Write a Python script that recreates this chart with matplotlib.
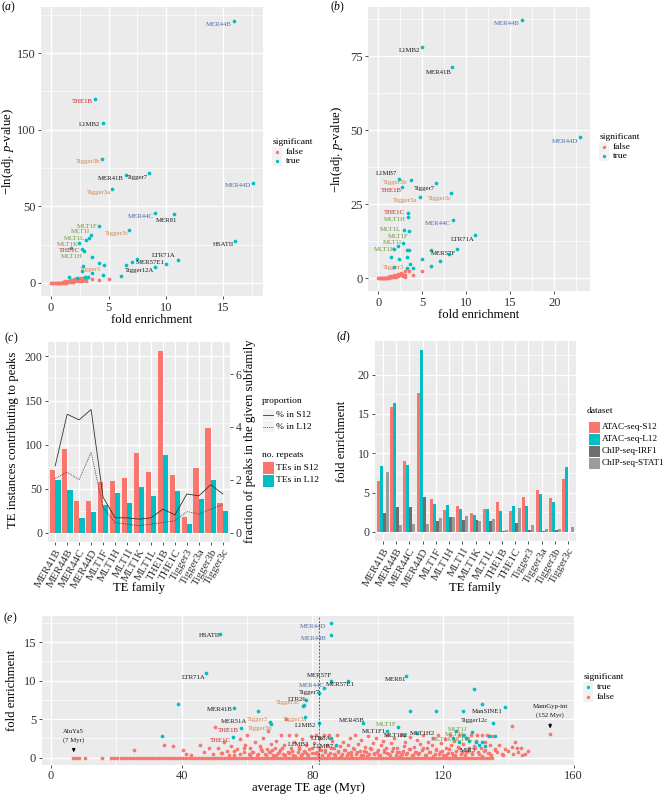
import matplotlib
matplotlib.use('Agg')
import matplotlib.pyplot as plt
from matplotlib.lines import Line2D
from matplotlib.patches import Rectangle
from matplotlib.ticker import MultipleLocator

plt.rcParams['font.family'] = ['Liberation Serif', 'DejaVu Serif']
plt.rcParams['mathtext.fontset'] = 'custom'
plt.rcParams['mathtext.rm'] = 'Liberation Serif'
plt.rcParams['mathtext.it'] = 'Liberation Serif:italic'

W, H = 668, 799
RED = '#F8766D'
TEAL = '#00BFC4'
C_BLUE = '#4F6FA8'
C_RED = '#C41E1E'
C_ORANGE = '#D2804A'
C_GREEN = '#6A9A3A'
C_BLACK = '#1A1A1A'

# ---------------- data: panel (a) ----------------
a_true_fe = [15.9, 3.84, 4.55, 4.4, 6.49, 8.49, 17.56, 5.33, 9.07, 10.7, 4.2, 3.5, 3.3, 3.0,
             6.8, 2.46, 16.0, 1.77, 2.72, 2.9, 3.56, 11.04, 10.0, 7.5, 7.04, 6.52, 9.0, 6.05,
             4.2, 4.57, 4.52, 2.75, 2.7, 3.56, 1.53, 2.26, 2.98, 3.2]
a_true_p = [171.2, 120, 104.5, 81, 70.6, 71.7, 65.3, 61.2, 45.4, 44.7, 36.8, 31.2, 29, 28,
            34.2, 25.9, 27.4, 22.6, 22.0, 21.0, 17.1, 14.7, 12.3, 15.6, 13.6, 11.4, 10.1, 4.2,
            12.8, 11.4, 4.9, 11.0, 7.9, 6.2, 3.5, 3.3, 3.5, 3.5]
a_false_fe = [0.0, 0.1, 0.2, 0.3, 0.4, 0.5, 0.6, 0.7, 0.8, 0.9, 1.0, 1.1, 1.2, 1.3, 1.4, 1.5,
              1.6, 1.7, 1.8, 1.9, 2.0, 2.1, 2.2, 2.3, 2.4, 2.5, 2.6, 2.7, 2.8, 2.9, 3.0, 1.0,
              1.2, 1.5, 1.7, 2.0, 2.2, 2.5, 2.8, 3.0, 3.6, 4.2, 5.0]
a_false_p = [0.0, 0.0, 0.0, 0.0, 0.0, 0.0, 0.0, 0.0, 0.1, 0.0, 0.2, 0.1, 0.4, 0.2, 0.6, 0.3,
             0.9, 0.5, 1.2, 0.7, 1.5, 0.9, 1.8, 1.1, 2.2, 1.4, 2.6, 1.0, 2.0, 1.6, 2.4, 0.8,
             1.0, 1.3, 1.6, 2.4, 2.8, 3.0, 3.0, 0.9, 2.2, 1.6, 2.4]
a_label_names = ['MER44B', 'THE1B', 'L1MB2', 'Tigger3b', 'MER41B', 'Tigger7', 'MER44D',
                 'Tigger3a', 'MER44C', 'MER81', 'MLT1F', 'MLT1I', 'MLT1L', 'Tigger3c',
                 'MLT1K', 'HSATII', 'THE1C', 'MLT1H', 'LTR71A', 'MER57E1', 'Tigger3',
                 'Tigger12A']
a_label_x = [14.57, 2.7, 3.36, 3.18, 5.16, 7.48, 16.26, 4.14, 7.77, 10.0, 3.18, 2.55, 2.03,
             5.74, 1.48, 14.96, 1.59, 1.83, 9.8, 8.6, 3.4, 7.7]
a_label_y = [168.6, 118.6, 103.3, 79.3, 68.4, 68.8, 63.4, 59.0, 43.0, 41.0, 37.1, 33.2, 29.2,
             32.0, 25.2, 24.8, 21.1, 17.1, 17.6, 13.2, 8.8, 7.9]

# ---------------- data: panel (b) ----------------
b_true_fe = [16.3, 4.99, 8.42, 22.9, 2.34, 3.74, 2.72, 6.6, 8.27, 4.72, 3.36, 3.36, 8.46,
             2.98, 3.55, 10.95, 2.8, 2.27, 1.85, 3.3, 3.5, 5.97, 8.9, 8.05, 1.5, 2.4, 3.3,
             5.0, 7.0, 3.66, 4.0, 6.0, 3.3, 1.8]
b_true_p = [87.2, 78.0, 71.2, 47.5, 33.6, 33.0, 30.9, 32.1, 28.8, 27.3, 22.0, 20.7, 19.5,
            16.3, 15.8, 14.5, 11.9, 11.0, 9.8, 9.6, 9.6, 9.6, 9.7, 8.1, 7.0, 6.6, 7.2, 6.3,
            5.9, 4.6, 3.5, 4.0, 3.5, 3.6]
b_false_fe = [0.0, 0.1, 0.2, 0.3, 0.4, 0.5, 0.6, 0.7, 0.8, 0.9, 1.0, 1.1, 1.2, 1.3, 1.4, 1.5,
              1.6, 1.7, 1.8, 1.9, 2.0, 2.1, 2.2, 2.3, 2.4, 2.5, 2.6, 2.7, 2.8, 2.9, 3.0, 1.4,
              1.8, 2.2, 2.6, 3.0, 3.1, 3.55, 4.0, 5.0]
b_false_p = [0.0, 0.0, 0.0, 0.0, 0.0, 0.0, 0.0, 0.0, 0.1, 0.0, 0.1, 0.2, 0.1, 0.3, 0.2, 0.4,
             0.3, 0.6, 0.4, 0.8, 0.5, 1.0, 0.7, 1.2, 0.9, 1.3, 1.0, 1.5, 0.8, 1.2, 0.2, 0.7,
             1.0, 1.4, 1.7, 1.0, 2.3, 2.3, 1.0, 2.3]
b_label_names = ['MER44B', 'L1MB2', 'MER41B', 'MER44D', 'L1MB7', 'Tigger3b', 'THE1B',
                 'Tigger7', 'Tigger3c', 'Tigger3a', 'THE1C', 'MLT1H', 'MER44C', 'MLT1L',
                 'LTR71A', 'MLT1F', 'MLT1I', 'MLT1K', 'MER57F', 'Tigger3']
b_label_x = [14.55, 3.58, 6.87, 21.16, 0.94, 1.96, 1.51, 5.28, 7.06, 3.1, 1.85, 1.85, 6.76,
             1.39, 9.64, 2.22, 1.59, 0.71, 7.37, 1.77]
b_label_y = [86.1, 77.0, 69.6, 46.0, 35.3, 32.2, 29.5, 30.3, 26.9, 26.1, 22.1, 19.8, 18.3,
             16.5, 13.2, 13.9, 12.1, 9.8, 8.3, 3.5]

# ---------------- data: panel (c) ----------------
families = ['MER41B', 'MER44B', 'MER44C', 'MER44D', 'MLT1F', 'MLT1H', 'MLT1I', 'MLT1K',
            'MLT1L', 'THE1B', 'THE1C', 'Tigger3', 'Tigger3a', 'Tigger3b', 'Tigger3c']
c_tes_s12 = [71, 95, 36, 36, 58, 59, 62.5, 90.5, 69, 206, 65.5, 18, 74, 119, 34]
c_tes_l12 = [59.5, 49, 17.4, 24, 32, 44.7, 34, 51.5, 42, 88.6, 47, 10.6, 38, 60, 25]
c_pct_s12 = [2.53, 4.48, 4.27, 4.66, 1.35, 0.57, 0.57, 0.52, 0.57, 0.90, 0.68, 1.47, 1.40,
             1.82, 1.47]
c_pct_l12 = [2.06, 2.29, 2.01, 3.04, 0.95, 0.39, 0.33, 0.27, 0.33, 0.39, 0.46, 0.81, 0.71,
             0.90, 1.06]

# ---------------- data: panel (d) ----------------
d_datasets = ['ATAC-seq-S12', 'ATAC-seq-L12', 'ChIP-seq-IRF1', 'ChIP-seq-STAT1']
d_atac_s12 = [6.43, 15.9, 9.03, 17.6, 4.13, 2.77, 3.28, 2.43, 2.9, 3.83, 2.72, 4.47, 5.28,
              4.3, 6.73]
d_atac_l12 = [8.43, 16.4, 8.5, 23.1, 3.53, 3.4, 2.9, 2.13, 2.9, 2.68, 3.32, 3.32, 4.81, 3.74,
              8.3]
d_chip_irf1 = [2.36, 3.17, 3.17, 4.47, 1.36, 1.9, 1.49, 1.49, 1.36, 0.17, 1.15, 0.2, 0.1, 0.2,
               0.04]
d_chip_stat1 = [7.58, 0.86, 0.95, 1.06, 1.83, 1.85, 2.04, 1.36, 1.62, 0.26, 3.02, 0.94, 0.38,
                0.43, 0.64]

# ---------------- data: panel (e) ----------------
e_true_age = [51.9, 85.6, 85.6, 47.4, 108.8, 85.8, 90.8, 83.7, 82.2, 78.2, 77.4, 77.2, 77.8,
              56.0, 63.5, 39.0, 67.3, 67.0, 58.2, 55.7, 33.9, 82.0, 95.5, 106.2, 103.0, 108.0,
              112.0, 85.8, 87.3, 139.0, 135.2, 110.0, 118.0, 126.0, 129.5, 132.0, 124, 126,
              127, 128, 129, 130, 131, 132, 133, 134, 136, 125, 123]
e_true_fe = [16.0, 17.5, 15.9, 11.05, 10.66, 9.96, 9.96, 9.0, 8.4, 7.5, 6.9, 6.7, 5.26, 6.5,
             6.0, 7.0, 4.4, 4.6, 3.8, 2.7, 2.76, 4.47, 4.5, 4.0, 3.5, 3.0, 3.2, 2.6, 1.67,
             6.55, 4.55, 6.05, 6.05, 6.05, 8.9, 6.95, 3.5, 3.0, 2.6, 2.2, 3.3, 2.0, 1.7, 2.0,
             1.5, 2.8, 2.8, 2.0, 2.5]
e_false_zero_age = [6.8, 7.6, 8.6, 10.6, 15.6, 18.3, 19.2, 20.2, 21.6, 22.5, 23.4, 24.3,
                    25.2, 26.0, 26.9, 27.8, 28.7, 29.6, 30.5, 31.4, 32.3, 33.2, 34.1, 35.0,
                    35.9, 36.8, 37.7, 38.6, 39.5, 40.4, 41.3, 42.2, 43.1, 44.0, 44.9, 45.8,
                    46.7, 47.6, 48.5, 49.4, 50.3, 51.2, 52.1, 53.0, 53.9, 54.8, 55.7, 56.6,
                    57.5, 58.4, 59.3, 60.2, 61.1, 62.0, 62.9, 63.8, 64.7, 65.6, 66.5, 67.4,
                    68.3, 69.2, 70.1, 71.0, 71.9, 72.8, 73.7, 74.6, 75.5, 76.4, 77.3, 78.2,
                    79.1, 80.0, 80.9, 81.8, 82.7, 83.6, 84.5, 85.4, 86.3, 87.2, 88.1, 89.0,
                    89.9, 90.8, 91.7, 92.6, 93.5, 94.4, 95.3, 96.2, 97.1, 98.0, 98.9, 99.8,
                    100.7, 101.6, 102.5, 103.4, 104.3, 105.2, 106.1, 107.0, 107.9, 108.8,
                    109.7, 110.6, 111.5, 112.4, 113.3, 114.2, 115.1, 116.0, 116.9, 117.8,
                    118.7, 119.6, 120.5, 121.4, 122.3, 123.2, 124.1, 125.0, 125.9, 126.8,
                    127.7, 128.6, 129.5, 130.4, 131.3, 132.2, 133.1, 134.0, 134.9]
e_false_age = [25.5, 34.5, 37.5, 40.5, 41.5, 43.0, 45.5, 47.0, 48.5, 49.5,
               50.2, 51, 52, 53, 54, 55, 56, 57, 58, 59, 59.5,
               60, 60.5, 61, 62, 62.5, 63, 64, 64.5, 65, 65.5, 66, 66.5, 67, 67.5, 68, 68.5,
               69, 69.5, 70,
               70.5, 71, 71.5, 72, 72.5, 73, 73.5, 74, 74.5, 75, 75.5, 76, 76.5, 77, 77.5, 78,
               78.5, 79, 79.5, 80,
               80.5, 81, 81.5, 82, 82.5, 83, 83.5, 84, 84.5, 85, 85.5, 86, 86.5, 87, 87.5, 88,
               88.5, 89, 89.5, 90,
               90.5, 91, 91.5, 92, 92.5, 93, 93.5, 94, 94.5, 95, 95.5, 96, 96.5, 97, 97.5, 98,
               98.5, 99, 99.5, 100,
               100.5, 101, 101.5, 102, 102.5, 103, 103.5, 104, 104.5, 105, 105.5, 106, 106.5,
               107, 107.5, 108, 108.5, 109, 109.5, 110,
               110.5, 111, 111.5, 112, 112.5, 113, 113.5, 114, 114.5, 115, 115.5, 116, 116.5,
               117, 117.5, 118, 118.5, 119, 119.5, 120,
               120.5, 121, 121.5, 122, 122.5, 123, 123.5, 124, 124.5, 125, 125.5, 126, 126.5,
               127, 127.5, 128, 128.5, 129, 129.5, 130,
               130.5, 131, 131.5, 132, 132.5, 133, 133.5, 134, 134.5, 135, 136, 137, 138, 139,
               141.0, 141, 142, 143, 144, 145, 146, 152.8]
e_false_fe = [1.0, 1.7, 1.5, 1.0, 0.5, 0.3, 1.6, 0.8, 1.3, 0.5,
              4.0, 1.3, 0.6, 2.0, 0.9, 1.5, 0.4, 1.1, 2.4, 0.7, 1.7,
              3.0, 0.5, 1.2, 0.8, 2.0, 0.4, 1.5, 0.9, 2.6, 0.5, 1.1, 3.5, 0.7, 1.8, 0.4, 1.3,
              2.2, 0.6, 1.0,
              3.0, 0.5, 1.6, 5.0, 0.8, 3.0, 1.2, 0.4, 2.0, 3.0, 0.7, 1.4, 0.3, 2.4, 0.9, 1.7,
              0.5, 1.1, 2.8, 0.6,
              1.9, 3.0, 0.8, 1.3, 2.6, 0.4, 3.0, 1.0, 1.6, 3.0, 0.6, 2.2, 1.2, 0.4, 2.9, 0.9,
              1.5, 0.5, 2.0, 1.0,
              0.4, 1.7, 2.5, 0.7, 1.2, 3.0, 0.5, 1.8, 0.9, 2.3, 0.4, 1.4, 0.8, 2.8, 0.5, 1.1,
              1.9, 0.6, 2.6, 1.0,
              0.4, 1.6, 2.2, 0.7, 1.2, 3.0, 0.5, 1.9, 0.9, 2.5, 0.4, 1.3, 0.7, 2.9, 0.5, 1.5,
              2.1, 0.6, 1.1, 2.7,
              0.4, 1.4, 0.8, 2.3, 0.5, 1.8, 1.0, 3.0, 0.4, 1.3, 2.0, 0.7, 1.6, 2.6, 0.5, 1.1,
              3.0, 0.8, 1.9, 0.4,
              2.4, 1.2, 0.6, 3.0, 1.7, 0.4, 2.2, 0.9, 1.4, 2.9, 0.5, 1.8, 3.0, 0.8, 2.5, 1.2,
              3.0, 0.6, 1.5, 2.2,
              3.0, 0.5, 1.3, 3.0, 0.9, 2.0, 3.0, 0.6, 1.6, 2.8, 1.0, 1.6, 0.5, 1.1, 4.1, 1.4,
              2.0, 0.8, 1.2, 0.5, 0.9, 3.04]
e_false_low_age = [52.5, 54.5, 56.2, 57.8, 59.2, 60.8, 61.6, 63.3, 64.2, 65.8,
                   66.8, 67.8, 68.8, 69.8, 70.8, 71.8, 72.8, 73.8, 74.8, 75.8,
                   76.8, 77.8, 78.8, 79.8, 80.8, 81.8, 82.8, 83.8, 84.8, 85.8,
                   86.8, 87.8, 88.8, 89.8, 90.8, 91.8, 92.8, 93.8, 94.8, 95.8,
                   96.8, 97.8, 98.8, 99.8, 100.8, 101.8, 102.8, 103.8, 104.8, 105.8,
                   106.8, 107.8, 108.8, 109.8, 110.8, 111.8, 112.8, 113.8, 114.8, 115.8,
                   116.8, 117.8, 118.8, 119.8, 120.8, 121.8, 122.8, 123.8, 124.8, 125.8,
                   126.8, 127.8, 128.8, 129.8, 130.8, 131.8, 132.8, 133.8, 134.8, 135.8,
                   136.5, 138.5, 140.0, 141.5, 142.5, 144.2]
e_false_low_fe = [0.6, 0.3, 0.9, 0.5, 1.2, 0.3, 0.8, 0.5, 1.1, 0.3,
                  0.7, 1.0, 0.4, 0.8, 1.2, 0.3, 0.6, 0.9, 0.2, 1.1,
                  0.5, 0.8, 0.3, 1.3, 0.6, 0.4, 1.0, 0.7, 0.3, 1.2,
                  0.5, 0.8, 0.2, 1.0, 0.6, 0.3, 1.1, 0.7, 0.4, 0.9,
                  0.2, 1.2, 0.5, 0.8, 0.3, 1.0, 0.6, 0.4, 1.3, 0.7,
                  0.2, 0.9, 0.5, 1.1, 0.3, 0.8, 0.6, 1.2, 0.4, 0.7,
                  0.2, 1.0, 0.5, 0.9, 0.3, 1.1, 0.6, 0.4, 1.2, 0.8,
                  0.3, 0.9, 0.5, 1.3, 0.7, 0.2, 1.0, 0.6, 0.4, 1.1,
                  0.7, 0.4, 0.9, 0.5, 1.2, 0.3]
e_label_names = ['HSATII', 'MER44D', 'MER44B', 'LTR71A', 'MER57F', 'MER44C', 'MER57E1',
                 'MER81', 'Tigger7', 'LTR26', 'Tigger3c', 'MER41B', 'Tigger3', 'Tigger3a',
                 'MER51A', 'L1MB2', 'Tigger3b', 'THE1B', 'THE1C', 'MER45B', 'MLT1F', 'MLT1F1',
                 'MLT1F2', 'MLT1H2', 'LTR8A', 'L1MB3', 'L1MB7', 'ManSINE1', 'Tigger12c',
                 'MIR3', 'MLT1J', 'MLT1I', 'MLT1K', 'MLT1L']
e_label_x = [48.4, 80.2, 80.4, 43.6, 82.2, 79.7, 88.5, 105.6, 79.1, 75.3, 72.7, 51.6, 63.2,
             74.6, 55.9, 77.8, 63.9, 54.4, 51.9, 92.1, 102.5, 98.7, 105.6, 113.8, 82.8, 75.9,
             83.5, 133.5, 129.6, 127.7, 124.5, 123.5, 119.5, 126.0]
e_label_y = [15.8, 17.0, 15.4, 10.4, 10.6, 9.4, 9.5, 10.1, 8.5, 7.6, 7.1, 6.2, 5.0, 5.0,
             4.65, 4.2, 3.8, 3.5, 2.3, 4.8, 4.3, 3.4, 2.85, 3.1, 2.5, 1.67, 1.5, 6.0, 4.8,
             1.0, 3.7, 3.0, 2.4, 2.4]

LABEL_COLORS = {'MER44B': C_BLUE, 'MER44C': C_BLUE, 'MER44D': C_BLUE,
                'THE1B': C_RED, 'THE1C': C_RED,
                'Tigger3': C_ORANGE, 'Tigger3a': C_ORANGE, 'Tigger3b': C_ORANGE,
                'Tigger3c': C_ORANGE,
                'MLT1F': C_GREEN, 'MLT1H': C_GREEN, 'MLT1I': C_GREEN, 'MLT1K': C_GREEN,
                'MLT1L': C_GREEN, 'MLT1J': C_GREEN}

# ================= drawing =================
TICK_BIG = 9
TICK_SMALL = 8.5
TITLE = 9.2
LEG = 6.8
TAG = 8.5
PT = 7

fig = plt.figure(figsize=(W / 100, H / 100), dpi=100)
fig.patch.set_facecolor('white')


def axes_px(l, t, r, b):
    return fig.add_axes([l / W, 1 - b / H, (r - l) / W, (b - t) / H])


def ftext(x, y, s, size, ha='center', va='center', **kw):
    fig.text(x / W, 1 - y / H, s, fontsize=size, ha=ha, va=va, **kw)


def gg(ax, tsize):
    ax.set_facecolor('#EBEBEB')
    for sp in ax.spines.values():
        sp.set_visible(False)
    ax.set_axisbelow(True)
    ax.grid(True, which='major', color='white', lw=1.0)
    ax.grid(True, which='minor', color='white', lw=0.5)
    ax.tick_params(which='major', length=2.5, width=0.6, color='#333333',
                   labelsize=tsize, labelcolor='#333333', pad=1.5)
    ax.tick_params(which='minor', length=0)


def key_box(x, y, w=10, h=10, color='#F2F2F2'):
    fig.add_artist(Rectangle((x / W - w / 2 / W, 1 - y / H - h / 2 / H), w / W, h / H,
                             transform=fig.transFigure, facecolor=color, edgecolor='none'))


def key_point(x, y, color):
    key_box(x, y)
    fig.add_artist(Line2D([x / W], [1 - y / H], marker='o', ms=2.4, color=color,
                          markeredgewidth=0, transform=fig.transFigure))


def sig_legend(x, y, order):
    ftext(x, y, 'significant', LEG, ha='left')
    for i, (lab, col) in enumerate(order):
        yy = y + 10 + 9.5 * i
        key_point(x + 4, yy, col)
        ftext(x + 13, yy, lab, LEG, ha='left')


def labels(ax, names, xs, ys):
    for n, x, y in zip(names, xs, ys):
        ax.text(x, y, n, fontsize=4.9, color=LABEL_COLORS.get(n, C_BLACK),
                ha='center', va='center')


# ---- (a) ----
ax = axes_px(41, 7, 263, 296)
gg(ax, TICK_BIG)
ax.scatter(a_false_fe, a_false_p, s=PT, color=RED, lw=0, zorder=3)
ax.scatter(a_true_fe, a_true_p, s=PT, color=TEAL, lw=0, zorder=3)
labels(ax, a_label_names, a_label_x, a_label_y)
ax.set_xlim(-0.88, 18.44)
ax.set_ylim(-8.6, 180.1)
ax.xaxis.set_major_locator(MultipleLocator(5))
ax.xaxis.set_minor_locator(MultipleLocator(2.5))
ax.yaxis.set_major_locator(MultipleLocator(50))
ax.yaxis.set_minor_locator(MultipleLocator(25))
ftext(8, 151, '\u2212ln(adj. $\\mathit{p}$-value)', TITLE, rotation=90)
ftext(152, 320, 'fold enrichment', TITLE)
ftext(1, 7, '($\\mathit{a}$)', TAG, ha='left')
sig_legend(273, 141.7, [('false', RED), ('true', TEAL)])

# ---- (b) ----
ax = axes_px(368, 7, 590, 291)
gg(ax, TICK_BIG)
ax.scatter(b_false_fe, b_false_p, s=PT, color=RED, lw=0, zorder=3)
ax.scatter(b_true_fe, b_true_p, s=PT, color=TEAL, lw=0, zorder=3)
labels(ax, b_label_names, b_label_x, b_label_y)
ax.set_xlim(-1.15, 24.05)
ax.set_ylim(-4.36, 91.56)
ax.xaxis.set_major_locator(MultipleLocator(5))
ax.xaxis.set_minor_locator(MultipleLocator(2.5))
ax.yaxis.set_major_locator(MultipleLocator(25))
ax.yaxis.set_minor_locator(MultipleLocator(12.5))
ftext(337, 149, '\u2212ln(adj. $\\mathit{p}$-value)', TITLE, rotation=90)
ftext(479, 315, 'fold enrichment', TITLE)
ftext(330, 7, '($\\mathit{b}$)', TAG, ha='left')
sig_legend(600, 136.7, [('false', RED), ('true', TEAL)])

# ---- (c) ----
ax = axes_px(48, 342, 230, 542)
gg(ax, TICK_SMALL)
xs = list(range(1, len(families) + 1))
ax.bar([x - 0.225 for x in xs], c_tes_s12, width=0.45, color=RED, zorder=2)
ax.bar([x + 0.225 for x in xs], c_tes_l12, width=0.45, color=TEAL, zorder=2)
ax.set_xlim(0.4, len(families) + 0.6)
ax.set_ylim(-10.3, 216.3)
ax.yaxis.set_major_locator(MultipleLocator(50))
ax.yaxis.set_minor_locator(MultipleLocator(25))
ax.set_xticks(xs)
ax.set_xticklabels(families, rotation=60, ha='right', va='top', rotation_mode='anchor',
                   fontsize=8)
ax2 = ax.twinx()
ax2.set_ylim(-10.3 / 30, 216.3 / 30)
ax2.plot(xs, c_pct_s12, color='#333333', lw=0.6, zorder=4)
ax2.plot(xs, c_pct_l12, color='#333333', lw=0.6, ls=(0, (1, 1.2)), zorder=4)
for sp in ax2.spines.values():
    sp.set_visible(False)
ax2.set_yticks([0, 2, 4, 6])
ax2.tick_params(length=2.5, width=0.6, color='#333333', labelsize=TICK_SMALL,
                labelcolor='#333333', pad=1.5)
ftext(13, 440, 'TE instances contributing to peaks', TITLE, rotation=90)
ftext(250, 441, 'fraction of peaks in the given subfamily', TITLE, rotation=90)
ftext(139, 588, 'TE family', TITLE)
ftext(4, 338, '($\\mathit{c}$)', TAG, ha='left')
# legend (c)
ftext(262, 401, 'proportion', LEG, ha='left')
for yy, ls, lab in [(415, '-', '% in S12'), (427, (0, (1, 1.2)), '% in L12')]:
    key_box(268, yy, 11, 11)
    fig.add_artist(Line2D([263 / W, 273 / W], [1 - yy / H, 1 - yy / H], color='#333333',
                          lw=0.6, ls=ls, transform=fig.transFigure))
    ftext(276, yy, lab, LEG, ha='left')
ftext(262, 455, 'no. repeats', LEG, ha='left')
for yy, col, lab in [(467.5, RED, 'TEs in S12'), (480.5, TEAL, 'TEs in L12')]:
    key_box(268, yy, 11, 12, col)
    ftext(276, yy, lab, LEG, ha='left')

# ---- (d) ----
ax = axes_px(375, 341, 576, 541)
gg(ax, TICK_SMALL)
d_cols = [RED, TEAL, '#6E6E6E', '#9C9C9C']
d_vals = [d_atac_s12, d_atac_l12, d_chip_irf1, d_chip_stat1]
offs = [-0.3375, -0.1125, 0.1125, 0.3375]
for vals, col, off in zip(d_vals, d_cols, offs):
    ax.bar([x + off for x in xs], vals, width=0.225, color=col, zorder=2)
ax.set_xlim(0.4, len(families) + 0.6)
ax.set_ylim(-1.155, 24.26)
ax.yaxis.set_major_locator(MultipleLocator(5))
ax.yaxis.set_minor_locator(MultipleLocator(2.5))
ax.set_xticks(xs)
ax.set_xticklabels(families, rotation=60, ha='right', va='top', rotation_mode='anchor',
                   fontsize=8)
ftext(342, 441, 'fold enrichment', TITLE, rotation=90)
ftext(475, 588, 'TE family', TITLE)
ftext(336, 337, '($\\mathit{d}$)', TAG, ha='left')
ftext(587, 411, 'dataset', LEG, ha='left')
for i, (lab, col) in enumerate(zip(d_datasets, d_cols)):
    yy = 427.3 + 12 * i
    key_box(594, yy, 11, 11, col)
    ftext(601.5, yy, lab, 6.6, ha='left')

# ---- (e) ----
ax = axes_px(41.7, 616, 575, 764.5)
gg(ax, TICK_BIG)
ax.scatter(e_false_zero_age, [0] * len(e_false_zero_age), s=PT, color=RED, lw=0, zorder=3)
ax.scatter(e_false_age, e_false_fe, s=PT, color=RED, lw=0, zorder=3)
ax.scatter(e_false_low_age, e_false_low_fe, s=PT, color=RED, lw=0, zorder=3)
ax.scatter(e_true_age, e_true_fe, s=PT, color=TEAL, lw=0, zorder=3)
labels(ax, e_label_names, e_label_x, e_label_y)
ax.axvline(82, color='#333333', lw=0.5, ls=(0, (3, 2)), zorder=4)
ax.set_xlim(-2.8, 160.4)
ax.set_ylim(-0.875, 18.375)
ax.xaxis.set_major_locator(MultipleLocator(40))
ax.xaxis.set_minor_locator(MultipleLocator(20))
ax.yaxis.set_major_locator(MultipleLocator(5))
ax.yaxis.set_minor_locator(MultipleLocator(2.5))
ax.text(7.0, 3.4, 'AluYa5', fontsize=4.9, ha='center', va='center', color=C_BLACK)
ax.text(7.0, 2.3, '(7 Myr)', fontsize=4.9, ha='center', va='center', color=C_BLACK)
ax.annotate('', xy=(7.0, 0.35), xytext=(7.0, 1.6),
            arrowprops=dict(arrowstyle='-|>', color='black', lw=0.6, mutation_scale=5))
ax.text(152.8, 6.6, 'MamGyp-int', fontsize=4.9, ha='center', va='center', color=C_BLACK)
ax.text(152.8, 5.5, '(152 Myr)', fontsize=4.9, ha='center', va='center', color=C_BLACK)
ax.annotate('', xy=(152.8, 3.45), xytext=(152.8, 4.8),
            arrowprops=dict(arrowstyle='-|>', color='black', lw=0.6, mutation_scale=5))
ftext(12, 690, 'fold enrichment', TITLE, rotation=90)
ftext(308, 788, 'average TE age (Myr)', TITLE)
ftext(3, 618, '($\\mathit{e}$)', TAG, ha='left')
sig_legend(584, 677.3, [('true', TEAL), ('false', RED)])

fig.savefig('out.png', dpi=100, facecolor='white')
